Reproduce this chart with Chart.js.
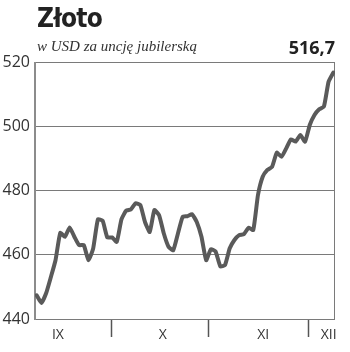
<!DOCTYPE html>
<html>
<head>
<meta charset="utf-8">
<script src="https://cdn.jsdelivr.net/npm/chart.js@4"></script>
<style>
  body { margin: 0; background: #fff; }
  #wrap { position: relative; width: 350px; height: 352px; }
  .title { position: absolute; left: 37px; top: 5px; font: bold 26px/26px "DejaVu Sans Condensed", "DejaVu Sans"; color: #222; letter-spacing: -0.8px; }
  .sub { position: absolute; left: 37px; top: 39px; font: italic 15px/15px "Liberation Serif", serif; color: #333; }
  .last { position: absolute; right: 15px; top: 38px; font: bold 18px/18px "Open Sans"; color: #222; }
</style>
</head>
<body>
<div id="wrap">
  <canvas id="goldChart"></canvas>
  <div class="title">Złoto</div>
  <div class="sub">w USD za uncję jubilerską</div>
  <div class="last">516,7</div>
</div>
<script>
// gold price, USD per troy ounce, one value per trading day (Sep - early Dec)
const prices = [
  447.4, 445, 448, 453, 458.3, 466.8, 465.6, 468.5, 465.6, 463,
  463, 458.3, 462, 471, 470.6, 465.4, 465.4, 464, 471, 473.7,
  474.1, 476, 475.5, 470.2, 467.1, 473.9, 472.3, 466.6, 462.5, 461.4,
  466.6, 471.8, 472, 472.6, 470.2, 465.6, 458.3, 461.7, 461, 456.4,
  456.8, 462, 464.6, 466.1, 466.4, 468.4, 467.7, 478.6, 484.3, 486.4,
  487.4, 491.8, 490.5, 493.1, 495.9, 495.2, 497.3, 495.2, 500.4, 503.5,
  505.3, 506.1, 513.9, 516.7
];
const months = ["IX", "X", "XI", "XII"];
const monthMid = [4.5, 26.8, 48.1, 62];      // day index where month name sits
const monthStart = [15.7, 36.45, 57.7];      // day index of month changes
const yTicks = [440, 460, 480, 500, 520];

// frame + month separators
const frame = {
  id: "frame",
  beforeDatasetsDraw(chart) {
    const { ctx, chartArea: a } = chart;
    const x = chart.scales.x;
    ctx.save();
    ctx.strokeStyle = "#7a7a7a";
    ctx.lineWidth = 1;
    ctx.beginPath();
    ctx.moveTo(a.left, a.top + 0.5);
    ctx.lineTo(a.right - 0.5, a.top + 0.5);
    ctx.lineTo(a.right - 0.5, a.bottom);
    ctx.stroke();
    ctx.strokeStyle = "#8c8c8c";
    ctx.lineWidth = 2;
    ctx.beginPath();
    ctx.moveTo(a.left, a.top);
    ctx.lineTo(a.left, a.bottom + 1);
    ctx.stroke();
    ctx.strokeStyle = "#555";
    ctx.lineWidth = 1.5;
    monthStart.forEach(d => {
      const px = Math.round(x.getPixelForValue(d)) + 0.5;
      ctx.beginPath();
      ctx.moveTo(px, a.bottom + 1);
      ctx.lineTo(px, a.bottom + 18);
      ctx.stroke();
    });
    ctx.restore();
  }
};

const ctx = document.getElementById("goldChart").getContext("2d");
new Chart(ctx, {
  type: "line",
  data: {
    datasets: [{
      data: prices.map((v, i) => ({ x: i, y: v })),
      borderColor: "#5a5a5a",
      borderWidth: 4,
      borderJoinStyle: "round",
      borderCapStyle: "round",
      pointRadius: 0,
      tension: 0.15,
      fill: false
    }]
  },
  options: {
    responsive: true,
    maintainAspectRatio: false,
    animation: false,
    layout: { padding: { top: 62, right: 15, left: 0, bottom: 0 } },
    plugins: { legend: { display: false }, tooltip: { enabled: false } },
    scales: {
      x: {
        type: "linear",
        min: -0.36,
        max: 63.36,
        afterBuildTicks: axis => { axis.ticks = monthMid.map(v => ({ value: v })); },
        afterFit: axis => { axis.height = 33; },
        grid: { display: false },
        border: { display: false },
        ticks: {
          autoSkip: false,
          maxRotation: 0,
          padding: 0,
          color: "#333",
          font: { family: "Open Sans", size: 14 },
          callback: (v, i) => months[i]
        }
      },
      y: {
        min: 440,
        max: 520,
        afterBuildTicks: axis => { axis.ticks = yTicks.map(v => ({ value: v })); },
        afterFit: axis => { axis.width = 35; },
        grid: { color: "#7a7a7a", lineWidth: 1, drawTicks: false },
        border: { display: false },
        ticks: {
          padding: 5,
          color: "#333",
          font: { family: "Open Sans", size: 16 }
        }
      }
    }
  },
  plugins: [frame]
});
</script>
</body>
</html>
